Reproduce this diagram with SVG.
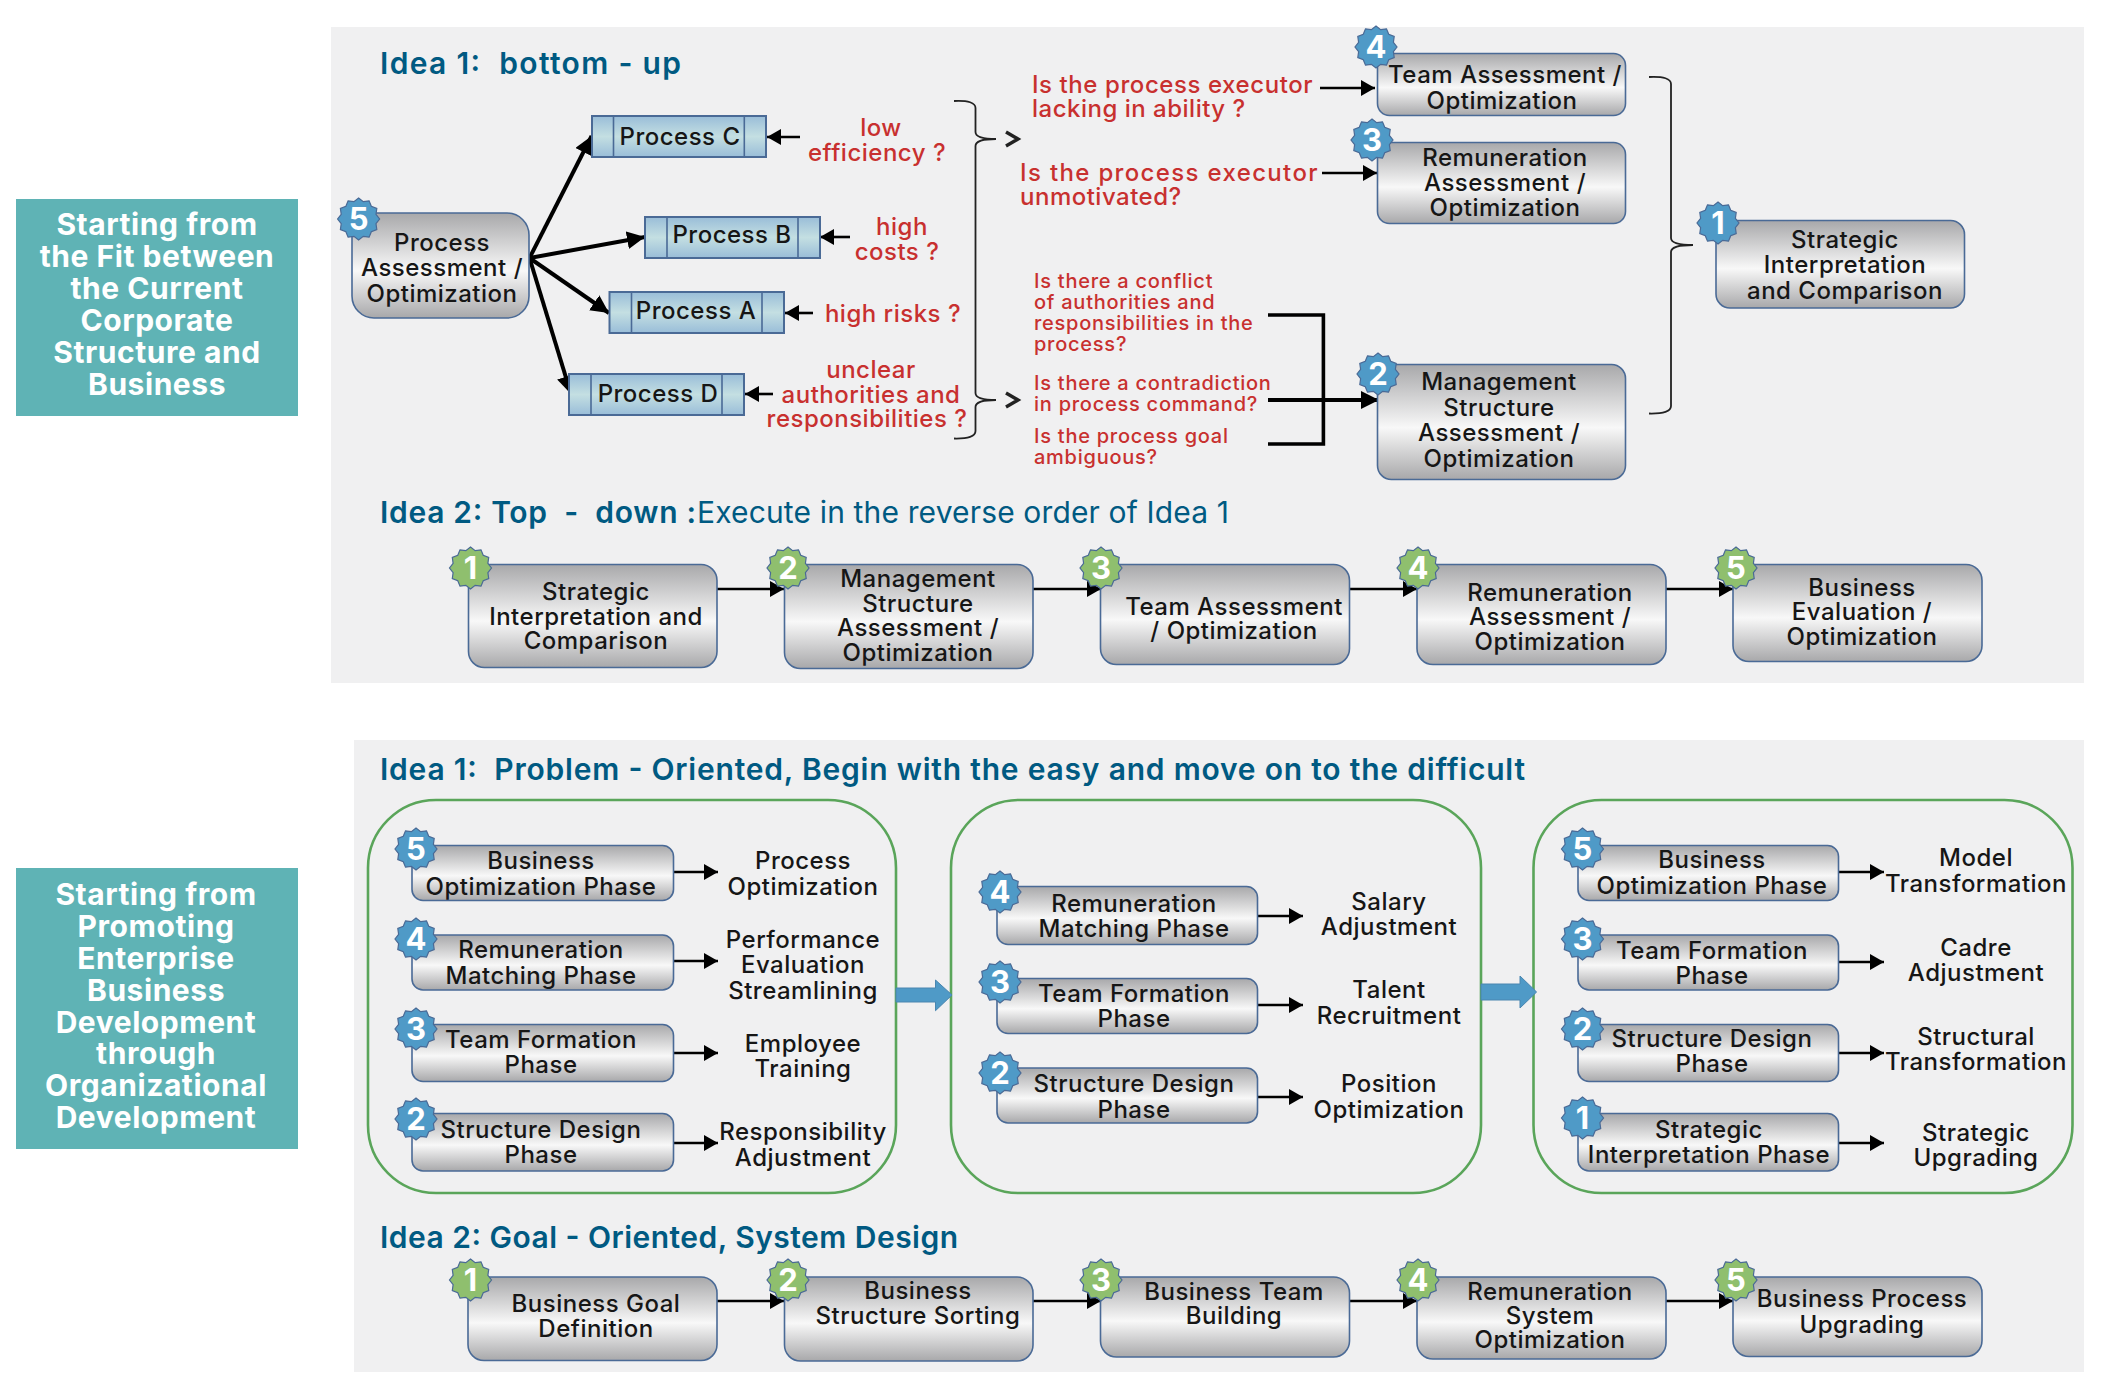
<svg xmlns="http://www.w3.org/2000/svg" width="2110" height="1390" viewBox="0 0 2110 1390">
<style>
text{font-family:"Inter","Noto Sans","Liberation Sans",sans-serif;white-space:pre}
.panel{fill:#f0f0f1}
.teal{fill:#5fb3b5}
.tl{fill:#fff;font-size:30px;font-weight:700;text-anchor:middle;letter-spacing:.55px}
.h{fill:#005a82;font-size:30px;font-weight:600}
.hl{fill:#005a82;font-size:30px;font-weight:400}
.n{fill:url(#g);stroke:#4a6a96;stroke-width:1.6}
.p{fill:url(#b);stroke:#4a6a96;stroke-width:2}
.pl{fill:none;stroke:#4a6a96;stroke-width:1.6}
.t{fill:#161616;font-size:24px;font-weight:500;text-anchor:middle;letter-spacing:.5px}
.r{fill:#c8302f;font-size:24px;font-weight:500;letter-spacing:.5px}
.rs{fill:#c8302f;font-size:20px;font-weight:500;letter-spacing:.75px}
.rm{text-anchor:middle}
.bb{fill:#4f9ac7;stroke:#4a6a96;stroke-width:1.2}
.bg{fill:#8fbf6e;stroke:#4a6a96;stroke-width:1.2}
.d{fill:#fff;font-size:31px;font-weight:700;text-anchor:middle}
.grp{fill:none;stroke:#5aa55a;stroke-width:2.6}
.a{fill:none;stroke:#000;stroke-width:2.6;marker-end:url(#ah)}
.af{fill:none;stroke:#000;stroke-width:4;marker-end:url(#ahb)}
.br{fill:none;stroke:#222;stroke-width:1.8}
.ch{fill:none;stroke:#222;stroke-width:3.4}
.bk{fill:none;stroke:#000;stroke-width:3.6}
.blk{fill:#4f9ac7;stroke:#4a86b0;stroke-width:1}
</style>
<defs>
<linearGradient id="g" x1="0" y1="0" x2="0" y2="1"><stop offset="0" stop-color="#a8a8aa"/><stop offset=".55" stop-color="#f8f8f8"/><stop offset="1" stop-color="#a8a8aa"/></linearGradient>
<linearGradient id="b" x1="0" y1="0" x2="0" y2="1"><stop offset="0" stop-color="#99bdd8"/><stop offset=".5" stop-color="#c4dfe2"/><stop offset="1" stop-color="#99bdd8"/></linearGradient>
<marker id="ah" markerUnits="userSpaceOnUse" markerWidth="16" markerHeight="18" refX="14" refY="8" orient="auto"><path d="M0 0L14 8L0 16z" fill="#000"/></marker>
<marker id="ahb" markerUnits="userSpaceOnUse" markerWidth="20" markerHeight="20" refX="18" refY="9" orient="auto"><path d="M0 0L18 9L0 18z" fill="#000"/></marker>
<polygon id="star" points="0,-21 4.66,-17.39 10.5,-18.2 12.73,-12.73 18.2,-10.5 17.39,-4.66 21,0 17.39,4.66 18.2,10.5 12.73,12.73 10.5,18.2 4.66,17.39 0,21 -4.66,17.39 -10.5,18.2 -12.73,12.73 -18.2,10.5 -17.39,4.66 -21,0 -17.39,-4.66 -18.2,-10.5 -12.73,-12.73 -10.5,-18.2 -4.66,-17.39"/>
</defs>

<rect width="2110" height="1390" fill="#fff"/>
<rect class="panel" x="331" y="27" width="1753" height="656"/>
<rect class="panel" x="354" y="740" width="1730" height="632"/>

<g id="side-1"><rect class="teal" x="16" y="199" width="282" height="217"/>
<text class="tl"><tspan x="157" y="235">Starting from</tspan><tspan x="157" y="267">the Fit between</tspan><tspan x="157" y="299">the Current</tspan><tspan x="157" y="331">Corporate</tspan><tspan x="157" y="363">Structure and</tspan><tspan x="157" y="395">Business</tspan></text></g>
<g id="side-2"><rect class="teal" x="16" y="868" width="282" height="281"/>
<text class="tl"><tspan x="156" y="905">Starting from</tspan><tspan x="156" y="937">Promoting</tspan><tspan x="156" y="969">Enterprise</tspan><tspan x="156" y="1001">Business</tspan><tspan x="156" y="1033">Development</tspan><tspan x="156" y="1064">through</tspan><tspan x="156" y="1096">Organizational</tspan><tspan x="156" y="1128">Development</tspan></text></g>

<text class="h" x="380" y="74" textLength="301">Idea 1:  bottom - up</text>
<text class="h" x="380" y="523" textLength="316">Idea 2: Top  -  down :</text>
<text class="hl" x="697" y="523" textLength="532">Execute in the reverse order of Idea 1</text>
<text class="h" x="380" y="780" textLength="1145">Idea 1:  Problem - Oriented, Begin with the easy and move on to the difficult</text>
<text class="h" x="380" y="1248" textLength="578">Idea 2: Goal - Oriented, System Design</text>

<g id="red-labels">
<text class="r rm"><tspan x="881" y="136">low</tspan><tspan x="877" y="161">efficiency ?</tspan></text>
<text class="r rm"><tspan x="902" y="235">high</tspan><tspan x="897" y="260">costs ?</tspan></text>
<text class="r rm" x="893" y="322">high risks ?</text>
<text class="r rm"><tspan x="871" y="378">unclear</tspan><tspan x="871" y="403">authorities and</tspan><tspan x="867" y="427">responsibilities ?</tspan></text>
<text class="r"><tspan x="1032" y="93" textLength="281">Is the process executor</tspan><tspan x="1032" y="117">lacking in ability ?</tspan></text>
<text class="r"><tspan x="1020" y="181" textLength="298">Is the process executor</tspan><tspan x="1020" y="205">unmotivated?</tspan></text>
<text class="rs"><tspan x="1034" y="288">Is there a conflict</tspan><tspan x="1034" y="309">of authorities and</tspan><tspan x="1034" y="330">responsibilities in the</tspan><tspan x="1034" y="351">process?</tspan></text>
<text class="rs"><tspan x="1034" y="390">Is there a contradiction</tspan><tspan x="1034" y="411">in process command?</tspan></text>
<text class="rs"><tspan x="1034" y="443">Is the process goal</tspan><tspan x="1034" y="464">ambiguous?</tspan></text>
</g>

<g id="groups">
<rect class="grp" x="368" y="800" width="528" height="393" rx="68"/>
<rect class="grp" x="951" y="800" width="530" height="393" rx="68"/>
<rect class="grp" x="1533.5" y="800" width="539" height="393" rx="68"/>
</g>

<g id="connectors">
<path class="af" d="M529.5 258L591.6 136"/>
<path class="af" d="M529.5 258L645 237"/>
<path class="af" d="M529.5 258L609 313"/>
<path class="af" d="M529.5 258L571 394"/>
<path class="a" d="M800 137L767 137"/>
<path class="a" d="M850 237L820 237"/>
<path class="a" d="M813 313L785 313"/>
<path class="a" d="M773 394L745 394"/>
<path class="br" d="M954 101Q975.5 100 975.5 108V132Q975.5 139 996 139Q975.5 139 975.5 146V393Q975.5 400 996 400Q975.5 400 975.5 407V431Q975.5 439 954 438.5"/>
<path class="ch" d="M1006 132L1018 139L1006 146M1006 393L1018 400L1006 407"/>
<path class="br" d="M1649 77Q1671 76 1671 84V238Q1671 245 1693 245Q1671 245 1671 252V406Q1671 414 1649 413.5"/>
<path class="a" d="M1320 88L1375 88"/>
<path class="a" d="M1322 173L1377 173"/>
<path class="bk" d="M1268 315H1323.4V444H1268"/>
<path class="af" d="M1268 400H1379"/>
<path class="a" d="M717 589H784"/><path class="a" d="M1033 589H1101"/><path class="a" d="M1350 589H1417"/><path class="a" d="M1666 589H1733"/>
<path class="a" d="M717 1301H784"/><path class="a" d="M1033 1301H1101"/><path class="a" d="M1350 1301H1417"/><path class="a" d="M1666 1301H1733"/>
<path class="a" d="M673.5 872H718"/><path class="a" d="M673.5 961H718"/><path class="a" d="M673.5 1053H718"/><path class="a" d="M673.5 1143H718"/>
<path class="a" d="M1257.5 916H1303"/><path class="a" d="M1257.5 1005H1303"/><path class="a" d="M1257.5 1097H1303"/>
<path class="a" d="M1838.5 872H1884"/><path class="a" d="M1838.5 962H1884"/><path class="a" d="M1838.5 1053H1884"/><path class="a" d="M1838.5 1143H1884"/>
<polygon class="blk" points="896,988 935.5,988 935.5,980 952,995 935.5,1010.7 935.5,1002 896,1002"/>
<polygon class="blk" points="1481,984 1520,984 1520,976 1536.6,992 1520,1008 1520,1000 1481,1000"/>
</g>

<g id="process-c"><rect class="p" x="592" y="116" width="174" height="41"/><path class="pl" d="M613.5 116V157M744.3 116V157"/><text class="t" x="680" y="145">Process C</text></g>
<g id="process-b"><rect class="p" x="645" y="217" width="175" height="41"/><path class="pl" d="M667 217V258M798 217V258"/><text class="t" x="732" y="243">Process B</text></g>
<g id="process-a"><rect class="p" x="609.5" y="292" width="174.500" height="41"/><path class="pl" d="M631.500 292V333M762 292V333"/><text class="t" x="696" y="319">Process A</text></g>
<g id="process-d"><rect class="p" x="569" y="374" width="175" height="41"/><path class="pl" d="M591 374V415M722 374V415"/><text class="t" x="658" y="402">Process D</text></g>

<g id="u5"><rect class="n" x="352" y="213" width="177" height="105" rx="22"/><text class="t"><tspan x="442" y="251">Process</tspan><tspan x="442" y="276">Assessment /</tspan><tspan x="442" y="302">Optimization</tspan></text><use href="#star" class="bb" x="358.600" y="219"/><text class="d" x="358.600" y="230">5</text></g>
<g id="u4"><rect class="n" x="1377.500" y="53.500" width="248" height="62" rx="12"/><text class="t"><tspan x="1505" y="83">Team Assessment /</tspan><tspan x="1502" y="109">Optimization</tspan></text><use href="#star" class="bb" x="1376" y="47"/><text class="d" x="1376" y="58">4</text></g>
<g id="u3"><rect class="n" x="1377.500" y="142.500" width="248" height="81" rx="12"/><text class="t"><tspan x="1505" y="166">Remuneration</tspan><tspan x="1505" y="191">Assessment /</tspan><tspan x="1505" y="216">Optimization</tspan></text><use href="#star" class="bb" x="1372" y="140"/><text class="d" x="1372" y="151">3</text></g>
<g id="u2"><rect class="n" x="1377.500" y="364.500" width="248" height="115" rx="14"/><text class="t"><tspan x="1499" y="390">Management</tspan><tspan x="1499" y="416">Structure</tspan><tspan x="1499" y="441">Assessment /</tspan><tspan x="1499" y="467">Optimization</tspan></text><use href="#star" class="bb" x="1378" y="374"/><text class="d" x="1378" y="385">2</text></g>
<g id="u1"><rect class="n" x="1716" y="220.500" width="248.500" height="87.500" rx="14"/><text class="t"><tspan x="1845" y="248">Strategic</tspan><tspan x="1845" y="273">Interpretation</tspan><tspan x="1845" y="299">and Comparison</tspan></text><use href="#star" class="bb" x="1718" y="223"/><text class="d" x="1718" y="234">1</text></g>

<g id="d1"><rect class="n" x="468.500" y="564.500" width="248.500" height="103" rx="16"/><text class="t"><tspan x="596" y="600">Strategic</tspan><tspan x="596" y="625">Interpretation and</tspan><tspan x="596" y="649">Comparison</tspan></text><use href="#star" class="bg" x="470.500" y="568"/><text class="d" x="470.500" y="579">1</text></g>
<g id="d2"><rect class="n" x="784.500" y="564.500" width="248.500" height="104" rx="16"/><text class="t"><tspan x="918" y="587">Management</tspan><tspan x="918" y="612">Structure</tspan><tspan x="918" y="636">Assessment /</tspan><tspan x="918" y="661">Optimization</tspan></text><use href="#star" class="bg" x="788" y="568"/><text class="d" x="788" y="579">2</text></g>
<g id="d3"><rect class="n" x="1100.500" y="564.500" width="249" height="100" rx="16"/><text class="t"><tspan x="1234" y="615">Team Assessment</tspan><tspan x="1234" y="639">/ Optimization</tspan></text><use href="#star" class="bg" x="1101" y="568"/><text class="d" x="1101" y="579">3</text></g>
<g id="d4"><rect class="n" x="1417" y="564.500" width="249" height="100" rx="16"/><text class="t"><tspan x="1550" y="601">Remuneration</tspan><tspan x="1550" y="625">Assessment /</tspan><tspan x="1550" y="650">Optimization</tspan></text><use href="#star" class="bg" x="1418" y="568"/><text class="d" x="1418" y="579">4</text></g>
<g id="d5"><rect class="n" x="1733" y="564.500" width="249" height="97" rx="16"/><text class="t"><tspan x="1862" y="596">Business</tspan><tspan x="1862" y="620">Evaluation /</tspan><tspan x="1862" y="645">Optimization</tspan></text><use href="#star" class="bg" x="1736" y="568"/><text class="d" x="1736" y="579">5</text></g>

<g id="a5"><rect class="n" x="412" y="845.500" width="261.500" height="55" rx="11"/><text class="t"><tspan x="541" y="869">Business</tspan><tspan x="541" y="895">Optimization Phase</tspan></text><use href="#star" class="bb" x="416" y="849"/><text class="d" x="416" y="860">5</text></g>
<g id="a4"><rect class="n" x="412" y="935" width="261.500" height="55" rx="11"/><text class="t"><tspan x="541" y="958">Remuneration</tspan><tspan x="541" y="984">Matching Phase</tspan></text><use href="#star" class="bb" x="416" y="939"/><text class="d" x="416" y="950">4</text></g>
<g id="a3"><rect class="n" x="412" y="1024.500" width="261.500" height="57" rx="11"/><text class="t"><tspan x="541" y="1048">Team Formation</tspan><tspan x="541" y="1073">Phase</tspan></text><use href="#star" class="bb" x="416" y="1029"/><text class="d" x="416" y="1040">3</text></g>
<g id="a2"><rect class="n" x="412" y="1113.500" width="261.500" height="57.500" rx="11"/><text class="t"><tspan x="541" y="1138">Structure Design</tspan><tspan x="541" y="1163">Phase</tspan></text><use href="#star" class="bb" x="416" y="1119"/><text class="d" x="416" y="1130">2</text></g>
<g id="a-results"><text class="t"><tspan x="803" y="869">Process</tspan><tspan x="803" y="895">Optimization</tspan></text><text class="t"><tspan x="803" y="948">Performance</tspan><tspan x="803" y="973">Evaluation</tspan><tspan x="803" y="999">Streamlining</tspan></text><text class="t"><tspan x="803" y="1052">Employee</tspan><tspan x="803" y="1077">Training</tspan></text><text class="t"><tspan x="803" y="1140">Responsibility</tspan><tspan x="803" y="1166">Adjustment</tspan></text></g>

<g id="b4"><rect class="n" x="997" y="886.500" width="260.500" height="58" rx="11"/><text class="t"><tspan x="1134" y="912">Remuneration</tspan><tspan x="1134" y="937">Matching Phase</tspan></text><use href="#star" class="bb" x="1000" y="892"/><text class="d" x="1000" y="903">4</text></g>
<g id="b3"><rect class="n" x="997" y="978.500" width="260.500" height="55" rx="11"/><text class="t"><tspan x="1134" y="1002">Team Formation</tspan><tspan x="1134" y="1027">Phase</tspan></text><use href="#star" class="bb" x="1000" y="982"/><text class="d" x="1000" y="993">3</text></g>
<g id="b2"><rect class="n" x="997" y="1068" width="260.500" height="55" rx="11"/><text class="t"><tspan x="1134" y="1092">Structure Design</tspan><tspan x="1134" y="1118">Phase</tspan></text><use href="#star" class="bb" x="1000" y="1073"/><text class="d" x="1000" y="1084">2</text></g>
<g id="b-results"><text class="t"><tspan x="1389" y="910">Salary</tspan><tspan x="1389" y="935">Adjustment</tspan></text><text class="t"><tspan x="1389" y="998">Talent</tspan><tspan x="1389" y="1024">Recruitment</tspan></text><text class="t"><tspan x="1389" y="1092">Position</tspan><tspan x="1389" y="1118">Optimization</tspan></text></g>

<g id="c5"><rect class="n" x="1578" y="845.500" width="260.500" height="55" rx="11"/><text class="t"><tspan x="1712" y="868">Business</tspan><tspan x="1712" y="894">Optimization Phase</tspan></text><use href="#star" class="bb" x="1582.500" y="849"/><text class="d" x="1582.500" y="860">5</text></g>
<g id="c3"><rect class="n" x="1578" y="935" width="260.500" height="55" rx="11"/><text class="t"><tspan x="1712" y="959">Team Formation</tspan><tspan x="1712" y="984">Phase</tspan></text><use href="#star" class="bb" x="1582.500" y="939"/><text class="d" x="1582.500" y="950">3</text></g>
<g id="c2"><rect class="n" x="1578" y="1024.500" width="260.500" height="57" rx="11"/><text class="t"><tspan x="1712" y="1047">Structure Design</tspan><tspan x="1712" y="1072">Phase</tspan></text><use href="#star" class="bb" x="1582.500" y="1029"/><text class="d" x="1582.500" y="1040">2</text></g>
<g id="c1"><rect class="n" x="1578" y="1113.500" width="260.500" height="57.500" rx="11"/><text class="t"><tspan x="1709" y="1138">Strategic</tspan><tspan x="1709" y="1163">Interpretation Phase</tspan></text><use href="#star" class="bb" x="1582.500" y="1118"/><text class="d" x="1582.500" y="1129">1</text></g>
<g id="c-results"><text class="t"><tspan x="1976" y="866">Model</tspan><tspan x="1976" y="892">Transformation</tspan></text><text class="t"><tspan x="1976" y="956">Cadre</tspan><tspan x="1976" y="981">Adjustment</tspan></text><text class="t"><tspan x="1976" y="1045">Structural</tspan><tspan x="1976" y="1070">Transformation</tspan></text><text class="t"><tspan x="1976" y="1141">Strategic</tspan><tspan x="1976" y="1166">Upgrading</tspan></text></g>

<g id="e1"><rect class="n" x="468" y="1277" width="249" height="83.500" rx="16"/><text class="t"><tspan x="596" y="1312">Business Goal</tspan><tspan x="596" y="1337">Definition</tspan></text><use href="#star" class="bg" x="470.500" y="1280"/><text class="d" x="470.500" y="1291">1</text></g>
<g id="e2"><rect class="n" x="784.500" y="1277" width="248.500" height="84" rx="16"/><text class="t"><tspan x="918" y="1299">Business</tspan><tspan x="918" y="1324">Structure Sorting</tspan></text><use href="#star" class="bg" x="788" y="1280"/><text class="d" x="788" y="1291">2</text></g>
<g id="e3"><rect class="n" x="1100.500" y="1277" width="249" height="80" rx="16"/><text class="t"><tspan x="1234" y="1300">Business Team</tspan><tspan x="1234" y="1324">Building</tspan></text><use href="#star" class="bg" x="1101" y="1280"/><text class="d" x="1101" y="1291">3</text></g>
<g id="e4"><rect class="n" x="1417" y="1277" width="249" height="82" rx="16"/><text class="t"><tspan x="1550" y="1300">Remuneration</tspan><tspan x="1550" y="1324">System</tspan><tspan x="1550" y="1348">Optimization</tspan></text><use href="#star" class="bg" x="1418" y="1280"/><text class="d" x="1418" y="1291">4</text></g>
<g id="e5"><rect class="n" x="1733" y="1277" width="249" height="79.500" rx="16"/><text class="t"><tspan x="1862" y="1307">Business Process</tspan><tspan x="1862" y="1333">Upgrading</tspan></text><use href="#star" class="bg" x="1736" y="1280"/><text class="d" x="1736" y="1291">5</text></g>
</svg>
